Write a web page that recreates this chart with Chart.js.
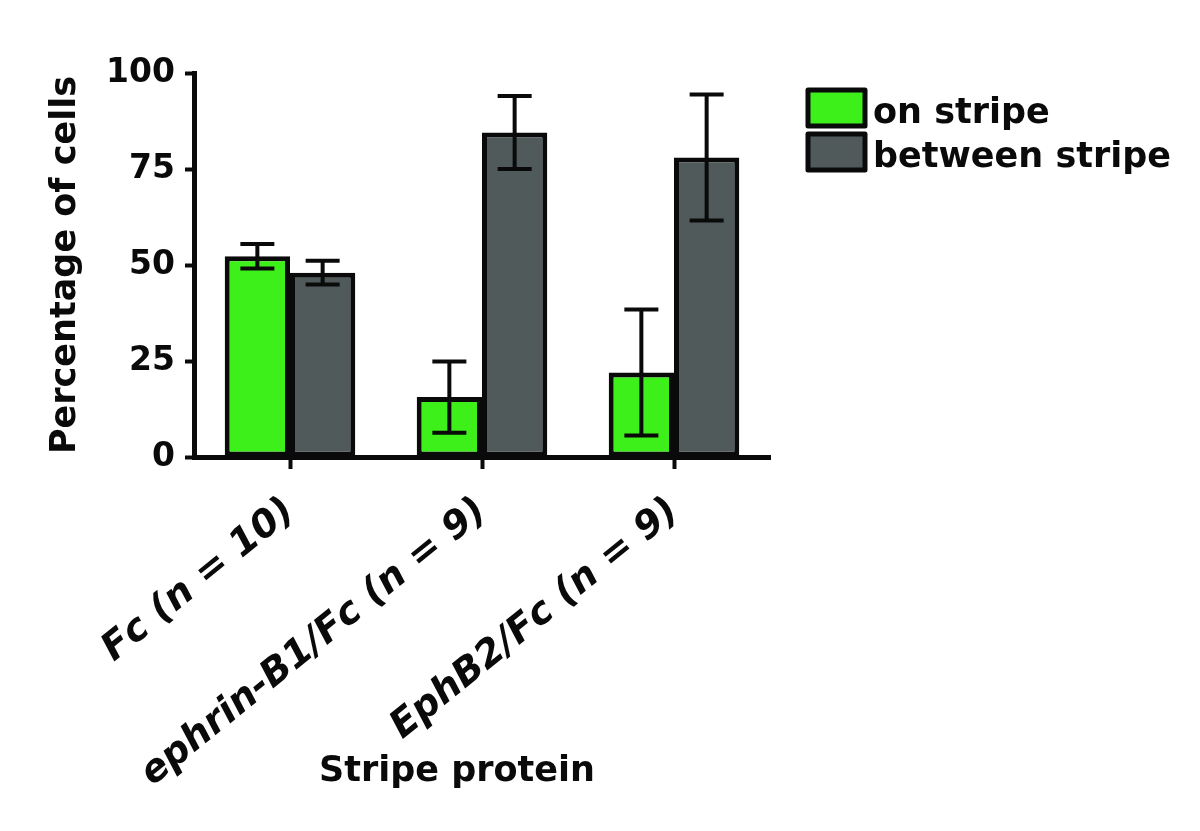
<!DOCTYPE html>
<html>
<head>
<meta charset="utf-8">
<script src="https://cdn.jsdelivr.net/npm/chart.js@4.4.0/dist/chart.umd.min.js"></script>
<style>
  html, body { margin: 0; padding: 0; background: #fff; }
  #wrap { width: 1200px; height: 831px; }
</style>
</head>
<body>
<div id="wrap"><canvas id="stripeChart" width="1200" height="831"></canvas></div>
<script>
const categories = ['Fc (n = 10)', 'ephrin-B1/Fc (n = 9)', 'EphB2/Fc (n = 9)'];
const onStripe = [52.3, 15.6, 22];
const onStripeErr = [3.2, 9.3, 16.4];
const betweenStripe = [48, 84.5, 78];
const betweenStripeErr = [3.1, 9.5, 16.4];
const seriesNames = ['on stripe', 'between stripe'];
const seriesColors = ['#3df01a', '#505a5a'];

const FONT = "'DejaVu Sans', sans-serif";
const INK = '#0a0a0a';

// error bars (mean +/- sem) on top of each bar
const errorBars = {
    id: 'errorBars',
    afterDatasetsDraw(chart) {
        const ctx = chart.ctx;
        const y = chart.scales.y;
        const errs = [onStripeErr, betweenStripeErr];
        ctx.save();
        ctx.strokeStyle = INK;
        ctx.lineWidth = 4;
        chart.data.datasets.forEach((ds, i) => {
            chart.getDatasetMeta(i).data.forEach((bar, j) => {
                const v = ds.data[j], e = errs[i][j];
                const top = y.getPixelForValue(v + e);
                const bot = y.getPixelForValue(v - e);
                ctx.beginPath();
                ctx.moveTo(bar.x, top); ctx.lineTo(bar.x, bot);
                ctx.moveTo(bar.x - 17, top); ctx.lineTo(bar.x + 17, top);
                ctx.moveTo(bar.x - 17, bot); ctx.lineTo(bar.x + 17, bot);
                ctx.stroke();
            });
        });
        ctx.restore();
    }
};

// legend on the right + x axis title
const sideLegend = {
    id: 'sideLegend',
    afterDraw(chart) {
        const ctx = chart.ctx;
        ctx.save();
        chart.data.datasets.forEach((ds, i) => {
            const bx = 808, by = 90 + i * 44;
            ctx.fillStyle = ds.backgroundColor;
            ctx.strokeStyle = INK;
            ctx.lineWidth = 5;
            ctx.lineJoin = 'round';
            ctx.fillRect(bx, by, 57, 36);
            ctx.strokeRect(bx, by, 57, 36);
            ctx.fillStyle = INK;
            ctx.font = 'bold 35px ' + FONT;
            ctx.textBaseline = 'alphabetic';
            ctx.textAlign = 'left';
            ctx.fillText(ds.label, 873, 123 + i * 44);
        });
        ctx.font = 'bold 35px ' + FONT;
        ctx.textAlign = 'center';
        ctx.textBaseline = 'middle';
        ctx.fillText('Stripe protein', 457, 772);
        ctx.restore();
    }
};

const ctx = document.getElementById('stripeChart').getContext('2d');
new Chart(ctx, {
    type: 'bar',
    data: {
        labels: categories,
        datasets: [{
            label: seriesNames[0],
            data: onStripe,
            backgroundColor: seriesColors[0],
            borderColor: INK,
            borderWidth: 5,
            borderSkipped: false
        }, {
            label: seriesNames[1],
            data: betweenStripe,
            backgroundColor: seriesColors[1],
            borderColor: INK,
            borderWidth: 5,
            borderSkipped: false
        }]
    },
    options: {
        responsive: false,
        animation: false,
        layout: { padding: { top: 73, right: 430, bottom: 0, left: 0 } },
        datasets: { bar: { categoryPercentage: 0.68, barPercentage: 1 } },
        plugins: {
            legend: { display: false },
            tooltip: { enabled: false }
        },
        scales: {
            x: {
                afterFit: (s) => { s.height = 374; },
                grid: {
                    display: true,
                    drawOnChartArea: false,
                    offset: false,
                    tickLength: 12,
                    tickWidth: 4,
                    tickColor: INK
                },
                border: { color: INK, width: 5 },
                ticks: {
                    color: INK,
                    minRotation: 39,
                    maxRotation: 39,
                    padding: 20,
                    font: { family: FONT, size: 38, weight: 'bold', style: 'italic' }
                }
            },
            y: {
                min: 0,
                max: 100,
                afterFit: (s) => { s.width = 194; },
                grid: {
                    display: true,
                    drawOnChartArea: false,
                    tickLength: 9,
                    tickWidth: 4,
                    tickColor: INK
                },
                border: { color: INK, width: 5 },
                ticks: {
                    stepSize: 25,
                    color: INK,
                    padding: 10,
                    font: { family: FONT, size: 33, weight: 'bold' }
                },
                title: {
                    display: true,
                    text: 'Percentage of cells',
                    color: INK,
                    padding: { top: 45 },
                    font: { family: FONT, size: 35, weight: 'bold' }
                }
            }
        }
    },
    plugins: [errorBars, sideLegend]
});
</script>
</body>
</html>
